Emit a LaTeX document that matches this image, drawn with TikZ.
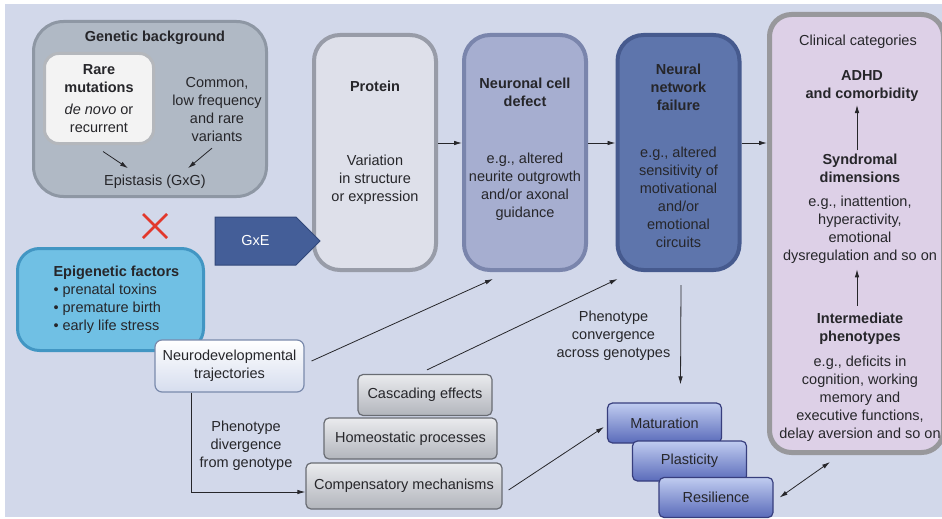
\documentclass[tikz,border=0pt]{standalone}
\usepackage{fontspec}
\setmainfont{Liberation Sans}
\usetikzlibrary{shapes.symbols,arrows.meta}

\definecolor{bg}{RGB}{210,216,234}
\definecolor{txt}{RGB}{38,38,42}
\definecolor{genfill}{RGB}{176,185,197}
\definecolor{genline}{RGB}{142,151,164}
\definecolor{rarefill}{RGB}{243,243,243}
\definecolor{rareline}{RGB}{180,183,188}
\definecolor{epifill}{RGB}{112,192,228}
\definecolor{epiline}{RGB}{66,150,195}
\definecolor{gxefill}{RGB}{68,94,152}
\definecolor{gxeline}{RGB}{50,72,122}
\definecolor{protfill}{RGB}{222,224,234}
\definecolor{protline}{RGB}{152,156,168}
\definecolor{cellfill}{RGB}{166,174,208}
\definecolor{cellline}{RGB}{122,133,172}
\definecolor{netfill}{RGB}{94,117,172}
\definecolor{netline}{RGB}{70,90,142}
\definecolor{clinfill}{RGB}{221,208,231}
\definecolor{clinline}{RGB}{152,152,156}
\definecolor{stacktop}{RGB}{234,235,238}
\definecolor{stackbot}{RGB}{178,181,188}
\definecolor{stackline}{RGB}{105,108,115}
\definecolor{bluetop}{RGB}{192,204,240}
\definecolor{bluebot}{RGB}{90,107,186}
\definecolor{blueline}{RGB}{55,62,125}
\definecolor{trajline}{RGB}{122,138,172}
\definecolor{trajbot}{RGB}{214,221,238}
\definecolor{xred}{RGB}{226,56,44}

\newcommand\diagfont{\fontsize{14.5}{18}\selectfont}

\tikzset{
  bigbox/.style={rounded corners=26pt, line width=4pt, inner sep=0pt,
    minimum width=122pt, minimum height=235pt},
  head/.style={font=\diagfont\bfseries, align=center},
  body/.style={align=center},
  graybox/.style={draw=stackline, line width=1.2pt, rounded corners=5pt,
    top color=stacktop, bottom color=stackbot, inner sep=2pt},
  bluebox/.style={draw=blueline, line width=1.2pt, rounded corners=5pt,
    top color=bluetop, bottom color=bluebot, inner sep=2pt,
    minimum width=114pt, minimum height=40pt},
  arr/.style={->, line width=0.8pt, draw=txt}
}

\begin{document}
\begin{tikzpicture}[x=1pt, y=-1pt, font=\diagfont, >={Latex[length=8pt,width=4.5pt]},
  every node/.style={text=txt}]
  \useasboundingbox (0,0) rectangle (942,519);
  \fill[white] (0,0) rectangle (942,519);
  \fill[bg] (5,4) rectangle (942,517);

  % genetic background
  \node[draw=genline, fill=genfill, line width=3pt, rounded corners=30pt,
    minimum width=233pt, minimum height=175pt] (gen) at (150,109) {};
  \node[head] (genhead) at (155,38) {Genetic background};
  \node[draw=rareline, fill=rarefill, line width=3pt, rounded corners=14pt,
    minimum width=109pt, minimum height=90pt, align=center, inner sep=0pt] (rare) at (99,98.5)
    {\textbf{Rare}\\\textbf{mutations}\\[4pt]\textit{de novo} or\\recurrent};
  \node[body] (common) at (217,110) {Common,\\low frequency\\and rare\\variants};
  \node (epi) at (155,182) {Epistasis (GxG)};
  \draw[arr] ([xshift=4pt,yshift=-6.5pt]rare.south) -- ([xshift=-27pt,yshift=3.5pt]epi.north);
  \draw[arr] ([xshift=-5pt,yshift=-2.5pt]common.south) -- ([xshift=33pt,yshift=3.5pt]epi.north);

  \draw[xred, line width=2.5pt] (143,214) -- (167,238) (143,238) -- (167,214);

  % epigenetic factors
  \node[draw=epiline, fill=epifill, line width=3pt, rounded corners=22pt,
    minimum width=186pt, minimum height=102pt] (epibox) at (110.5,299.5) {};
  \node[align=left, anchor=west] (epitext) at (50,300)
    {\textbf{Epigenetic factors}\\\textbullet{} prenatal toxins\\\textbullet{} premature birth\\\textbullet{} early life stress};

  % stages
  \node[bigbox, draw=protline, fill=protfill] (protein) at (375,152.5) {};
  \node[bigbox, draw=cellline, fill=cellfill] (cell) at (525,152.5) {};
  \node[bigbox, draw=netline, fill=netfill] (net) at (678.5,152.5) {};
  \node[head] at (375,86) {Protein};
  \node[body] at (375,180) {Variation\\in structure\\or expression};
  \node[head] at (525,92) {Neuronal cell\\defect};
  \node[body] at (525,187) {e.g., altered\\neurite outgrowth\\and/or axonal\\guidance};
  \node[head] at (678.5,87) {Neural\\network\\failure};
  \node[body] at (678.5,197) {e.g., altered\\sensitivity of\\motivational\\and/or\\emotional\\circuits};

  \node[signal, signal to=east, signal from=nowhere, draw=gxeline, fill=gxefill, line width=1pt,
    minimum width=105pt, minimum height=48pt, text=white] (gxe) at (255.5,241) {GxE};

  % clinical categories
  \node[draw=clinline, fill=clinfill, line width=5pt, rounded corners=22pt,
    minimum width=174pt, minimum height=438pt] (clinic) at (856.5,233.5) {};
  \node (cathead) at (858,42) {Clinical categories};
  \node[head] (adhd) at (862,86) {ADHD\\and comorbidity};
  \node[head] (synd) at (860,168) {Syndromal\\dimensions};
  \node[body] (syndbody) at (860,230) {e.g., inattention,\\hyperactivity,\\emotional\\dysregulation and so on};
  \node[head] (inter) at (860,329) {Intermediate\\phenotypes};
  \node[body] (interbody) at (860,398.5) {e.g., deficits in\\cognition, working\\memory and\\executive functions,\\delay aversion and so on};
  \draw[arr] ([xshift=-3pt]synd.north) -- ([xshift=-5pt]adhd.south);
  \draw[arr] ([xshift=-3pt,yshift=4pt]inter.north) -- ([xshift=-3pt,yshift=-2pt]syndbody.south);

  \draw[arr] ([yshift=9.5pt]protein.east) -- ([yshift=9.5pt]cell.west);
  \draw[arr] ([yshift=9.5pt]cell.east) -- ([yshift=9.5pt]net.west);
  \draw[arr] ([yshift=9.5pt]net.east) -- ([yshift=90.5pt]clinic.west);

  % trajectories and stacks
  \node[draw=trajline, line width=1.2pt, rounded corners=7pt, top color=white, bottom color=trajbot,
    minimum width=149pt, minimum height=52pt, align=center, inner sep=2pt] (traj) at (229.5,366)
    {Neurodevelopmental\\trajectories};

  \foreach \n/\x/\y/\w/\h/\t in {casc/425/395/134/41/Cascading effects,
      homeo/410.5/438.5/173/41/Homeostatic processes,
      comp/404/486/196/46/Compensatory mechanisms}
    \node[graybox, minimum width=\w pt, minimum height=\h pt] (\n) at (\x,\y) {\t};

  \foreach \n/\x/\y/\t in {mat/664.5/423/Maturation, plast/689.5/461/Plasticity, resil/716/497.5/Resilience}
    \node[bluebox] (\n) at (\x,\y) {\t};

  \node[body] (conv) at (613.5,336) {Phenotype\\convergence\\across genotypes};
  \node[body] (div) at (246,446) {Phenotype\\divergence\\from genotype};

  \draw[arr] ([xshift=7pt,yshift=5pt]traj.east) -- ([xshift=-32pt,yshift=-7pt]cell.south);
  \draw[arr] ([xshift=2pt,yshift=4pt]casc.north) -- ([xshift=2pt,yshift=-7pt]net.south west);
  \draw[arr] ([xshift=2.5pt,yshift=-13pt]net.south) -- ([xshift=16pt,yshift=18pt]mat.north);
  \draw[arr] ([xshift=-38.5pt]traj.south) |- ([yshift=-6pt]comp.west);
  \draw[arr] ([xshift=6pt,yshift=-4pt]comp.east) -- ([xshift=-3pt,yshift=-4pt]mat.west);
  \draw[arr, <->] ([xshift=6pt]resil.east) -- ([xshift=63pt,yshift=-7pt]clinic.south west);
\end{tikzpicture}
\end{document}
